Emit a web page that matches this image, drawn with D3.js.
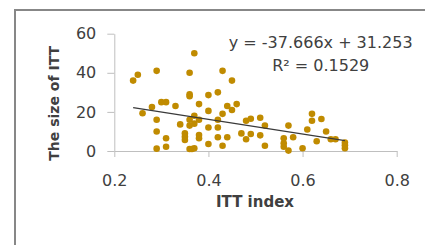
<!DOCTYPE html>
<html>
<head>
<meta charset="utf-8">
<script src="https://cdn.jsdelivr.net/npm/d3@7"></script>
<style>
  body { margin: 0; background: #fff; }
  svg { display: block; font-family: "DejaVu Sans", sans-serif; }
  .axis path, .axis line { stroke: #bfbfbf; }
  .axis text { fill: #404040; font-size: 16px; }
</style>
</head>
<body>
<script>
// ITT index vs size of ITT
const ittIndex = [0.24,0.25,0.26,0.28,0.29,0.29,0.29,0.29,0.30,0.31,0.31,0.31,0.33,0.34,0.35,0.35,0.35,
  0.36,0.36,0.36,0.36,0.36,0.36,0.365,0.37,0.37,0.37,0.37,0.38,0.38,0.38,0.38,0.40,0.40,0.40,0.40,
  0.42,0.42,0.42,0.42,0.43,0.43,0.43,0.44,0.44,0.45,0.45,0.46,0.47,0.48,0.48,0.49,0.49,0.51,0.51,
  0.52,0.52,0.56,0.56,0.56,0.57,0.57,0.58,0.60,0.61,0.62,0.62,0.63,0.64,0.65,0.66,0.67,0.69,0.69,0.69];
const ittSize = [36,39,19.3,22.5,41,16,10,1.2,25,25,6.5,2.2,23,13.6,9,7.3,5.6,
  40,29,28,16,13,1,1,50,18,14,1.4,24,16,8.2,6.5,28.6,20.5,12,3.6,
  30,16,12,7,41,19,2.7,23,7,36,21,24,9,15.5,6,16.5,8.7,17,8,
  13,2.7,6.5,4,2.2,13,0.2,7,1.4,11,19,15.5,5,16.4,10,6,6,4.3,2.9,1.4];
const xTicks = [0.2, 0.4, 0.6, 0.8];
const yTicks = [0, 20, 40, 60];
const slope = -37.666, intercept = 31.253;
const eqLines = ["y = -37.666x + 31.253", "R\u00b2 = 0.1529"];

const width = 425, height = 245;

const svg = d3.select('body').append('svg')
  .attr('width', width)
  .attr('height', height);

// chart frame, cut off at right/bottom like the reference
svg.append('rect')
  .attr('x', 15).attr('y', 10)
  .attr('width', 440).attr('height', 260)
  .attr('fill', 'none')
  .attr('stroke', '#878787')
  .attr('stroke-width', 2);

const x = d3.scaleLinear().domain([0.2, 0.8]).range([114.3, 396.7]);
const y = d3.scaleLinear().domain([0, 60]).range([151, 33.7]);

svg.append('g')
  .attr('class', 'axis')
  .attr('transform', `translate(0,${y(0)})`)
  .call(d3.axisBottom(x).tickValues(xTicks).tickFormat(d3.format('.1f'))
    .tickSizeInner(6).tickSizeOuter(0).tickPadding(18));

svg.append('g')
  .attr('class', 'axis')
  .attr('transform', `translate(${x(0.2)},0)`)
  .call(d3.axisLeft(y).tickValues(yTicks)
    .tickSizeInner(7).tickSizeOuter(0).tickPadding(11));

svg.selectAll('.axis text').attr('font-family', null);
svg.selectAll('.axis').attr('font-family', null).attr('font-size', null);

// points
svg.append('g')
  .selectAll('circle')
  .data(ittIndex.map((v, i) => [v, ittSize[i]]))
  .enter().append('circle')
    .attr('cx', d => x(d[0]))
    .attr('cy', d => y(d[1]))
    .attr('r', 3.3)
    .attr('fill', '#c08b00');

// linear trendline over the data range
const xr = d3.extent(ittIndex);
svg.append('line')
  .attr('x1', x(xr[0])).attr('y1', y(slope * xr[0] + intercept))
  .attr('x2', x(xr[1])).attr('y2', y(slope * xr[1] + intercept))
  .attr('stroke', '#3a3a3a')
  .attr('stroke-width', 1.2);

// equation
svg.append('g')
  .selectAll('text')
  .data(eqLines)
  .enter().append('text')
    .attr('x', 320.7)
    .attr('y', (d, i) => 47.7 + i * 23.3)
    .attr('text-anchor', 'middle')
    .attr('font-size', 16)
    .attr('fill', '#404040')
    .text(d => d);

// axis titles
svg.append('text')
  .attr('x', 255)
  .attr('y', 206.7)
  .attr('text-anchor', 'middle')
  .attr('font-size', 15)
  .attr('font-weight', 'bold')
  .attr('fill', '#404040')
  .text('ITT index');

svg.append('text')
  .attr('transform', 'translate(58.5,103.3) rotate(-90)')
  .attr('text-anchor', 'middle')
  .attr('font-size', 14)
  .attr('font-weight', 'bold')
  .attr('fill', '#404040')
  .text('The size of ITT');
</script>
</body>
</html>
